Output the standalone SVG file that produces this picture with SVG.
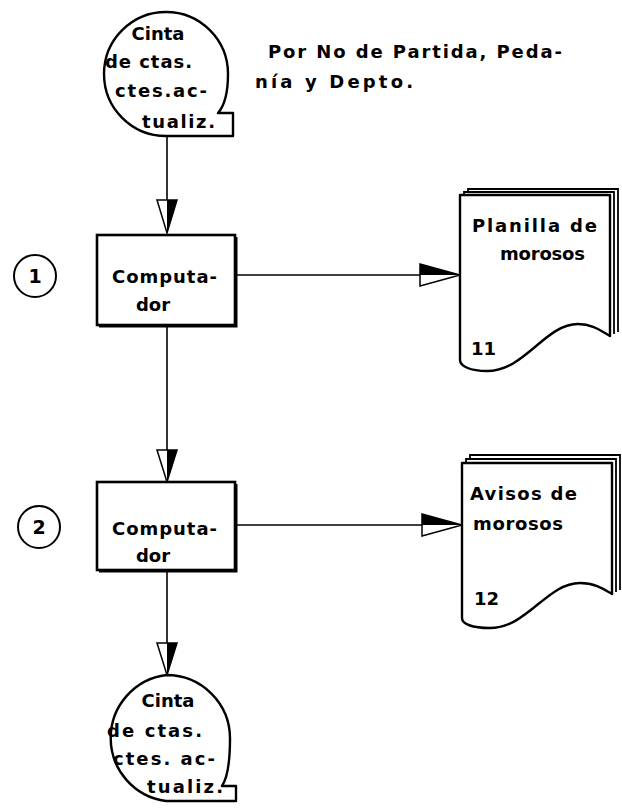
<svg xmlns="http://www.w3.org/2000/svg" width="622" height="808" viewBox="0 0 622 808">
<style>
  text { font-family: "DejaVu Sans", Lato, sans-serif; font-weight: bold; font-size: 18px; fill: #000; }
  .ln { stroke: #000; stroke-width: 1.6; fill: none; }
  .shape { stroke: #000; stroke-width: 2.4; fill: #fff; stroke-linejoin: round; }
  .box { stroke: #000; stroke-width: 2.6; fill: #fff; }
  .edge { stroke: #000; stroke-width: 2; fill: none; }
  .pg { stroke: #000; stroke-width: 1.8; fill: none; }
  .ah { fill: #fff; stroke: #000; stroke-width: 1.5; stroke-linejoin: miter; }
  .af { fill: #000; }
  .num { stroke: #000; stroke-width: 2; fill: #fff; }
  .c { text-anchor: middle; }
  .n { font-size: 19px; }
</style>
<rect width="622" height="808" fill="#fff"/>

<g id="connectors">
  <line class="ln" x1="167" y1="136" x2="167" y2="232"/>
  <polygon class="ah" points="157,200 177,200 167,233"/>
  <polygon class="af" points="167,200 177,200 167,233"/>

  <line class="ln" x1="167" y1="325" x2="167" y2="481"/>
  <polygon class="ah" points="157,450 177,450 167,482"/>
  <polygon class="af" points="167,450 177,450 167,482"/>

  <line class="ln" x1="167" y1="570" x2="167" y2="674"/>
  <polygon class="ah" points="157,643 177,643 167,675"/>
  <polygon class="af" points="167,643 177,643 167,675"/>

  <line class="ln" x1="236" y1="275" x2="459" y2="275"/>
  <polygon class="ah" points="420,264 420,286 460,275"/>
  <polygon class="af" points="420,264 460,275 420,275"/>

  <line class="ln" x1="236" y1="525" x2="461" y2="525"/>
  <polygon class="ah" points="422,514 422,536 462,525"/>
  <polygon class="af" points="422,514 462,525 422,525"/>
</g>

<g id="tape-in">
  <path class="shape" d="M166,136 A62,62 0 0 1 166,12 A62,62 0 0 1 228,74 C228,91 225,105 218,113 L233,113 L233,136 Z"/>
  <text class="c" x="158" y="40">Cinta</text>
  <text x="105" y="68" textLength="87" lengthAdjust="spacing">de ctas.</text>
  <text x="115" y="97" textLength="92" lengthAdjust="spacing">ctes.ac-</text>
  <text x="142" y="128" textLength="73" lengthAdjust="spacing">tualiz.</text>
</g>

<g id="note">
  <text x="268" y="58" textLength="294" lengthAdjust="spacing">Por No de Partida, Peda-</text>
  <text x="255" y="88" textLength="158" lengthAdjust="spacing">nía  y Depto.</text>
</g>

<g id="step1">
  <circle class="num" cx="35" cy="276" r="21"/>
  <text class="c n" x="35" y="283">1</text>
</g>

<g id="proc1">
  <rect class="box" x="97" y="235" width="138" height="90"/>
  <path class="edge" d="M236.5,237 V326.5 H99"/>
  <text x="112" y="283" textLength="105" lengthAdjust="spacing">Computa-</text>
  <text class="c" x="153" y="311">dor</text>
</g>

<g id="doc1">
  <polyline class="pg" points="468,192 468,189 618,189 618,332"/>
  <polyline class="pg" points="464,195 464,192 614,192 614,334"/>
  <path class="shape" d="M460,195 H610 V336 C600,330 592,324 578,324 C545,324 525,371 487,371 C470,371 460,366 460,360 Z"/>
  <text x="472" y="232" textLength="125" lengthAdjust="spacing">Planilla de</text>
  <text x="500" y="260" textLength="85" lengthAdjust="spacing">morosos</text>
  <text x="471" y="355" font-size="16">11</text>
</g>

<g id="step2">
  <circle class="num" cx="39" cy="527" r="21"/>
  <text class="c n" x="39" y="534">2</text>
</g>

<g id="proc2">
  <rect class="box" x="97" y="482" width="138" height="88"/>
  <path class="edge" d="M236.5,484 V571.5 H99"/>
  <text x="112" y="535" textLength="105" lengthAdjust="spacing">Computa-</text>
  <text class="c" x="153" y="562">dor</text>
</g>

<g id="doc2">
  <polyline class="pg" points="470,459 470,455 620,455 620,590"/>
  <polyline class="pg" points="466,463 466,459 616,459 616,592"/>
  <path class="shape" d="M462,463 H612 V594 C602,588 594,583 580,583 C547,583 527,628 490,628 C472,628 462,624 462,618 Z"/>
  <text x="470" y="500" textLength="107" lengthAdjust="spacing">Avisos de</text>
  <text x="473" y="530" textLength="90" lengthAdjust="spacing">morosos</text>
  <text x="474" y="605">12</text>
</g>

<g id="tape-out">
  <path class="shape" d="M166,801 A63.5,63.5 0 0 1 166.5,675 A63.5,63.5 0 0 1 230,738.5 C230,760 228,777 222,786 L236,786 L236,801 Z"/>
  <text class="c" x="168" y="707">Cinta</text>
  <text x="107" y="737" textLength="95" lengthAdjust="spacing">de ctas.</text>
  <text x="113" y="765" textLength="102" lengthAdjust="spacing">ctes. ac-</text>
  <text x="147" y="793" textLength="76" lengthAdjust="spacing">tualiz.</text>
</g>
</svg>
